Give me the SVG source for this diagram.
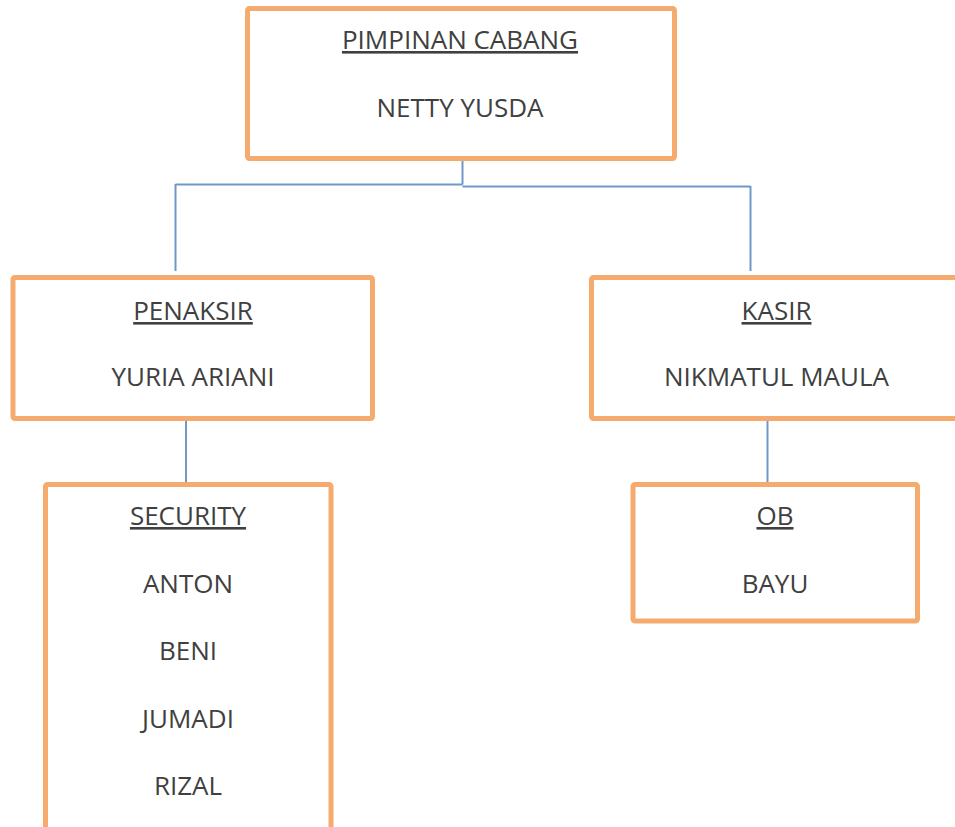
<svg xmlns="http://www.w3.org/2000/svg" width="955" height="827" viewBox="0 0 955 827">
  <style>
    .box { fill: #ffffff; stroke: #f5ab6d; stroke-width: 5; }
    .t { font-family: "Open Sans", "Liberation Sans", sans-serif; font-size: 26px; fill: #404040; text-anchor: middle; }
    .u { text-decoration: underline; }
    .conn { stroke: #6f98c9; stroke-width: 2; fill: none; }
  </style>
  <rect width="955" height="827" fill="#ffffff"/>

  <g id="connectors">
    <path class="conn" d="M462.5,160 V184.5 M175.5,184.5 H462.5 M462.5,186.5 H750.5 M175.5,184 V271 M750.5,186 V271"/>
    <path class="conn" d="M186,421 V483"/>
    <path class="conn" d="M767.5,421 V483"/>
  </g>

  <g id="pimpinan">
    <rect class="box" x="247.5" y="8.5" width="427" height="150" rx="2"/>
    <text class="t u" x="460" y="49">PIMPINAN CABANG</text>
    <text class="t" x="460" y="117">NETTY YUSDA</text>
  </g>

  <g id="penaksir">
    <rect class="box" x="13" y="277.5" width="359.5" height="141" rx="2"/>
    <text class="t u" x="193" y="320">PENAKSIR</text>
    <text class="t" x="193" y="386">YURIA ARIANI</text>
  </g>

  <g id="kasir">
    <rect class="box" x="591.5" y="277.5" width="369" height="141" rx="2"/>
    <text class="t u" x="776.5" y="320">KASIR</text>
    <text class="t" x="776.5" y="386">NIKMATUL MAULA</text>
  </g>

  <g id="security">
    <rect class="box" x="45.5" y="484.5" width="285.5" height="360" rx="2"/>
    <text class="t u" x="188" y="525">SECURITY</text>
    <text class="t" x="188" y="593">ANTON</text>
    <text class="t" x="188" y="660">BENI</text>
    <text class="t" x="188" y="728">JUMADI</text>
    <text class="t" x="188" y="795">RIZAL</text>
  </g>

  <g id="ob">
    <rect class="box" x="633" y="484.5" width="284.5" height="136.5" rx="2"/>
    <text class="t u" x="775" y="525">OB</text>
    <text class="t" x="775" y="593">BAYU</text>
  </g>
</svg>
